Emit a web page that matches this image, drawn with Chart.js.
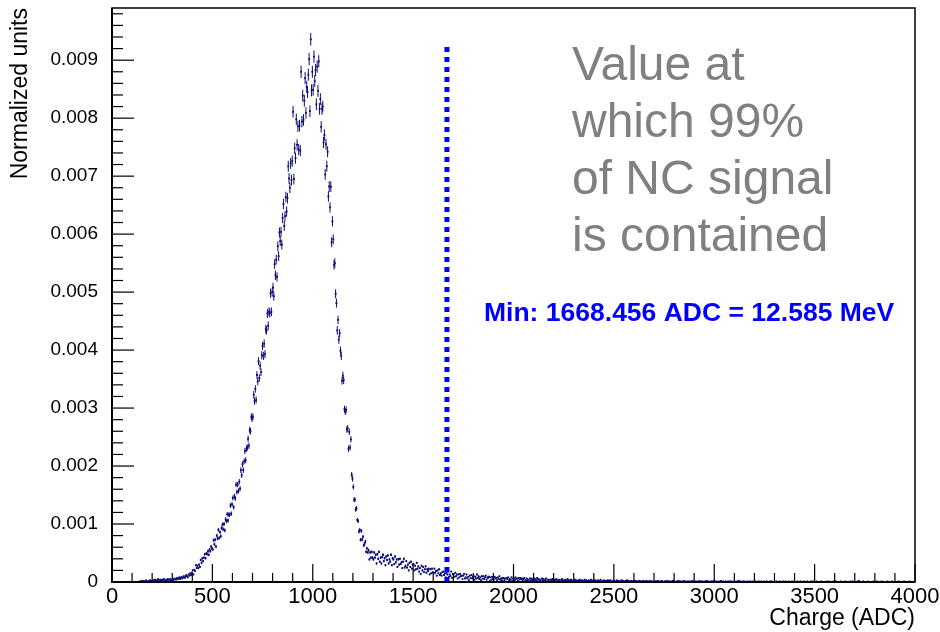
<!DOCTYPE html>
<html>
<head>
<meta charset="utf-8">
<title>Charge (ADC)</title>
<script src="https://cdn.jsdelivr.net/npm/chart.js@4.4.1/dist/chart.umd.min.js"></script>
<style>
    body { margin: 0; background: #ffffff; }
    canvas { display: block; }
</style>
</head>
<body>
<canvas id="chargeChart" width="940" height="632"></canvas>
<script>
// Histogram binning: 1000 bins of 4 ADC between 0 and 4000
const binWidth = 4;
const histLow = 0;

// Bin contents (normalized units), 25 bins per 100 ADC row
const riseBins = [
    0,0,0,0,0,0,0,0,0,0,0,0,0,0,0,0,0,0,0,0,0,0,0,0,0,
    0,0,0,0,0,0,0,0,0,0.00001,0,0.00002,0,0.00001,0.00002,0,0.00001,0.00003,0.00001,0,0.00002,0.00001,0.00003,0.00002,0.00001,
    0.00002,0.00003,0.00001,0.00004,0.00002,0.00003,0.00002,0.00005,0.00003,0.00002,0.00004,0.00003,0.00002,0.00004,0.00005,0.00003,0.00002,0.00004,0.00003,0.00005,0.00004,0.00002,0.00005,0.00003,0.00004,
    0.00004,0.00003,0.00006,0.00005,0.00004,0.00007,0.00005,0.00006,0.00008,0.00005,0.00007,0.00009,0.00006,0.00008,0.00010,0.00007,0.00009,0.00012,0.00010,0.00008,0.00013,0.00011,0.00015,0.00012,0.00016,
    0.00020,0.00013,0.00021,0.00019,0.00029,0.00024,0.00028,0.00024,0.00030,0.00026,0.00038,0.00033,0.00041,0.00036,0.00042,0.00048,0.00041,0.00049,0.00048,0.00053,0.00047,0.00056,0.00053,0.00061,0.00058,
    0.00056,0.00072,0.00065,0.00073,0.00061,0.00080,0.00075,0.00090,0.00076,0.00086,0.00079,0.00093,0.00099,0.00091,0.00100,0.00089,0.00108,0.00105,0.00117,0.00106,0.00116,0.00116,0.00132,0.00118,0.00134
];
const peakBins = [
    0.00145,0.00129,0.00148,0.00144,0.00168,0.00155,0.00168,0.00157,0.00173,0.00161,0.00193,0.00184,0.00203,0.00193,0.00208,0.00226,0.00210,0.00230,0.00232,0.00247,0.00235,0.00262,0.00260,0.00285,0.00282,
    0.00285,0.00323,0.00312,0.00333,0.00314,0.00357,0.00346,0.00381,0.00352,0.00373,0.00362,0.00391,0.00407,0.00390,0.00411,0.00393,0.00436,0.00434,0.00463,0.00442,0.00466,0.00464,0.00498,0.00466,0.00500,
    0.00508,0.00493,0.00548,0.00529,0.00556,0.00526,0.00579,0.00562,0.00603,0.00588,0.00604,0.00582,0.00628,0.00652,0.00614,0.00631,0.00664,0.00639,0.00662,0.00717,0.00696,0.00680,0.00722,0.00693,0.00726,
    0.00811,0.00695,0.00748,0.00731,0.00798,0.00754,0.00786,0.00746,0.00787,0.00744,0.00880,0.00794,0.00839,0.00797,0.00830,0.00869,0.00809,0.00854,0.00845,0.00875,0.00902,0.00812,0.00936,0.00848,0.00880,
    0.00849,0.00906,0.00864,0.00883,0.00824,0.00889,0.00847,0.00898,0.00816,0.00833,0.00785,0.00816,0.00820,0.00758,0.00771,0.00703,0.00755,0.00717,0.00742,0.00665,0.00682,0.00646,0.00682,0.00586,0.00622,
    0.00591,0.00547,0.00550,0.00497,0.00481,0.00434,0.00452,0.00418,0.00429,0.00399,0.00390,0.00347,0.00356,0.00348,0.00298,0.00294,0.00297,0.00263,0.00265,0.00230,0.00259,0.00232,0.00246,0.00185,0.00178,
    0.00164,0.00142,0.00142,0.00125,0.00127,0.00107,0.00105,0.00087,0.00090,0.00073,0.00088,0.00073,0.00078,0.00063,0.00066,0.00070,0.00052,0.00058,0.00051,0.00055,0.00039,0.00051,0.00042,0.00052,0.00042
];
const tailBins = [
    0.00039,0.00051,0.00042,0.00047,0.00032,0.00048,0.00040,0.00052,0.00035,0.00042,0.00032,0.00043,0.00047,0.00036,0.00041,0.00029,0.00044,0.00038,0.00046,0.00032,0.00039,0.00035,0.00047,0.00029,0.00041,
    0.00039,0.00031,0.00044,0.00034,0.00039,0.00026,0.00039,0.00030,0.00040,0.00031,0.00034,0.00024,0.00035,0.00040,0.00025,0.00028,0.00036,0.00025,0.00030,0.00020,0.00033,0.00026,0.00035,0.00023,0.00030,
    0.00031,0.00020,0.00028,0.00022,0.00033,0.00023,0.00027,0.00018,0.00024,0.00014,0.00028,0.00020,0.00026,0.00017,0.00022,0.00027,0.00016,0.00022,0.00019,0.00023,0.00013,0.00022,0.00015,0.00023,0.00017,
    0.00015,0.00023,0.00016,0.00019,0.00011,0.00020,0.00015,0.00022,0.00012,0.00015,0.00011,0.00017,0.00018,0.00012,0.00015,0.00008,0.00016,0.00013,0.00018,0.00009,0.00013,0.00010,0.00018,0.00007,0.00014,
    0.00013,0.00009,0.00016,0.00010,0.00013,0.00006,0.00013,0.00008,0.00014,0.00010,0.00011,0.00005,0.00011,0.00014,0.00006,0.00008,0.00013,0.00006,0.00009,0.00003,0.00011,0.00007,0.00012,0.00006,0.00009,
    0.00010,0.00004,0.00009,0.00006,0.00013,0.00007,0.00010,0.00005,0.00008,0.00003,0.00010,0.00006,0.00010,0.00005,0.00008,0.00011,0.00004,0.00008,0.00007,0.00009,0.00002,0.00008,0.00004,0.00009,0.00005,
    0.00004,0.00009,0.00006,0.00007,0.00003,0.00008,0.00005,0.00010,0.00004,0.00006,0.00003,0.00007,0.00007,0.00003,0.00006,0.00001,0.00007,0.00005,0.00008,0.00003,0.00005,0.00004,0.00008,0.00002,0.00006,
    0.00006,0.00003,0.00008,0.00005,0.00006,0.00002,0.00007,0.00004,0.00007,0.00005,0.00006,0.00003,0.00005,0.00007,0.00002,0.00003,0.00006,0.00003,0.00004,0.00001,0.00006,0.00003,0.00006,0.00003,0.00005,
    0.00006,0.00002,0.00005,0.00003,0.00007,0.00004,0.00005,0.00002,0.00004,0.00001,0.00006,0.00003,0.00005,0.00002,0.00003,0.00006,0.00001,0.00004,0.00003,0.00004,0,0.00004,0.00002,0.00005,0.00002,
    0.00003,0.00004,0.00002,0.00005,0.00001,0.00003,0.00002,0.00004,0,0.00003,0.00005,0.00002,0.00003,0.00001,0.00004,0.00003,0.00002,0.00005,0.00002,0.00003,0.00001,0.00004,0.00003,0,0.00002,
    0.00002,0.00004,0.00001,0.00003,0.00002,0,0.00003,0.00004,0.00002,0.00001,0.00003,0.00002,0,0.00004,0.00002,0.00003,0.00001,0.00002,0.00003,0,0.00002,0.00004,0.00001,0.00002,0.00003,
    0.00001,0.00003,0.00002,0,0.00002,0.00003,0.00001,0.00002,0.00004,0.00001,0,0.00002,0.00003,0.00001,0.00002,0.00002,0,0.00003,0.00001,0.00002,0.00003,0.00001,0,0.00002,0.00001,
    0.00002,0,0.00001,0.00003,0.00001,0.00002,0.00001,0,0.00002,0.00003,0.00001,0.00002,0.00001,0,0.00002,0.00001,0.00003,0.00001,0.00002,0,0.00001,0.00002,0,0.00001,0.00002
];
const farTailBins = [
    0.00001,0,0.00002,0.00001,0,0.00001,0.00002,0,0.00001,0.00001,0,0.00002,0.00001,0,0.00001,0.00002,0,0.00001,0.00001,0,0.00002,0.00001,0,0.00001,0,
    0,0.00001,0.00001,0,0.00002,0,0.00001,0,0.00001,0.00002,0.00001,0,0,0.00001,0.00001,0,0.00002,0,0.00001,0,0.00001,0,0.00001,0.00002,0,
    0.00001,0,0,0.00001,0,0.00002,0,0.00001,0,0.00001,0,0.00001,0.00002,0,0,0.00001,0,0.00001,0,0.00001,0,0,0.00002,0.00001,0,
    0,0.00001,0,0.00001,0,0,0.00002,0,0.00001,0,0.00001,0,0,0.00001,0,0.00002,0,0.00001,0,0,0.00001,0,0.00001,0,0.00002,
    0,0,0.00001,0,0,0.00001,0,0,0.00002,0,0,0.00001,0,0,0.00001,0,0,0.00001,0,0.00001,0,0.00001,0,0,0,
    0.00001,0,0,0.00001,0,0.00002,0,0.00001,0,0,0.00001,0,0.00001,0,0,0,0.00001,0,0,0.00001,0,0,0.00001,0,0,
    0,0.00001,0,0,0,0.00001,0,0,0.00001,0,0,0,0.00001,0,0,0.00001,0,0,0,0.00001,0,0.00001,0,0,0,
    0,0,0.00001,0,0,0,0.00001,0,0,0,0.00001,0,0,0.00001,0,0,0,0.00001,0,0,0,0.00001,0,0,0.00001,
    0,0,0,0.00001,0,0,0,0.00001,0,0,0,0.00001,0,0,0,0.00001,0,0,0,0,0.00001,0,0,0.00001,0,
    0,0,0.00001,0,0,0,0,0,0.00001,0,0,0,0,0,0.00001,0,0,0.00001,0,0,0,0,0,0.00001,0,
    0,0.00001,0,0,0,0,0,0.00001,0,0,0,0,0,0.00001,0,0,0,0,0,0.00001,0,0,0.00001,0,0,
    0,0,0,0.00001,0,0.00002,0,0,0,0,0.00001,0,0,0,0,0,0.00001,0,0,0,0,0,0,0.00001,0,
    0,0,0.00001,0,0,0,0,0,0.00001,0,0,0,0,0,0,0.00001,0,0,0,0,0,0.00001,0,0,0,
    0,0,0,0,0.00001,0,0,0,0,0,0,0.00001,0,0,0,0,0,0,0.00001,0,0,0,0,0,0
];

// Axis ticks
const xTicks = [0, 500, 1000, 1500, 2000, 2500, 3000, 3500, 4000];
const yTicks = [0, 0.001, 0.002, 0.003, 0.004, 0.005, 0.006, 0.007, 0.008, 0.009];

// 99% containment cut
const cutValue = 1668.456;
const cutLineTop = 0.0093;
const cutLabel = 'Min: 1668.456 ADC = 12.585 MeV';
const noteLines = ['Value at', 'which 99%', 'of NC signal', 'is contained'];

const totalEntries = 800000; // for the per-bin statistical error
const markerColor = '#0c0c78';
const fontFamily = "'Liberation Sans', Arial, Helvetica, sans-serif";

// Build the point list, skipping empty bins
const binContent = riseBins.concat(peakBins, tailBins, farTailBins);
const histPoints = [];
binContent.forEach(function(v, i) {
    if (v > 0) {
        histPoints.push({ x: histLow + (i + 0.5) * binWidth, y: v });
    }
});

// Error bars drawn right after the histogram markers
const histErrors = {
    id: 'histErrors',
    afterDatasetDraw(chart, args) {
        if (args.index !== 1) return;
        const ctx = chart.ctx;
        const yScale = chart.scales.y;
        ctx.save();
        ctx.strokeStyle = markerColor;
        ctx.lineWidth = 1;
        args.meta.data.forEach(function(pt, i) {
            const v = histPoints[i].y;
            const err = Math.sqrt(v / totalEntries);
            ctx.beginPath();
            ctx.moveTo(pt.x, yScale.getPixelForValue(v - err));
            ctx.lineTo(pt.x, yScale.getPixelForValue(v + err));
            ctx.stroke();
        });
        ctx.restore();
    }
};

// Frame with inward major/minor ticks, plus the text boxes
const frameAndNotes = {
    id: 'frameAndNotes',
    afterDraw(chart) {
        const ctx = chart.ctx;
        const area = chart.chartArea;
        const xs = chart.scales.x;
        const ys = chart.scales.y;
        ctx.save();

        ctx.strokeStyle = '#000';
        ctx.lineWidth = 1.2;
        for (let v = 0; v <= 4000; v += 100) {
            const px = xs.getPixelForValue(v);
            const len = (v % 500 === 0) ? 18 : 9;
            ctx.beginPath();
            ctx.moveTo(px, area.bottom);
            ctx.lineTo(px, area.bottom - len);
            ctx.stroke();
        }
        for (let k = 0; k <= 49; k++) {
            const py = ys.getPixelForValue(k * 0.0002);
            const len = (k % 5 === 0) ? 22 : 11;
            ctx.beginPath();
            ctx.moveTo(area.left, py);
            ctx.lineTo(area.left + len, py);
            ctx.stroke();
        }

        ctx.lineWidth = 1.5;
        ctx.strokeRect(area.left, area.top, area.right - area.left, area.bottom - area.top);
        ctx.lineWidth = 2;
        ctx.beginPath();
        ctx.moveTo(area.left, area.top);
        ctx.lineTo(area.left, area.bottom);
        ctx.lineTo(area.right, area.bottom);
        ctx.stroke();

        // Grey note, top right
        ctx.fillStyle = '#808080';
        ctx.font = '48px ' + fontFamily;
        ctx.textAlign = 'left';
        ctx.textBaseline = 'alphabetic';
        noteLines.forEach(function(line, i) {
            ctx.fillText(line, 572, 80 + i * 57);
        });

        // Cut value label
        ctx.fillStyle = '#0000ff';
        ctx.font = 'bold 26.5px ' + fontFamily;
        ctx.fillText(cutLabel, 484, 321);

        ctx.restore();
    }
};

Chart.defaults.font.family = fontFamily;
Chart.defaults.color = '#000';

const chart = new Chart(document.getElementById('chargeChart'), {
    type: 'scatter',
    data: {
        datasets: [{
            label: 'cut',
            data: [{ x: cutValue, y: 0 }, { x: cutValue, y: cutLineTop }],
            showLine: true,
            borderColor: '#0000ff',
            borderWidth: 5,
            borderDash: [5, 5],
            borderCapStyle: 'butt',
            pointRadius: 0,
            order: 0
        }, {
            label: 'charge',
            data: histPoints,
            pointStyle: 'rect',
            pointRadius: 1.3,
            pointBorderWidth: 0,
            backgroundColor: markerColor,
            borderColor: markerColor,
            order: 1
        }]
    },
    options: {
        responsive: false,
        animation: false,
        devicePixelRatio: 1,
        layout: {
            padding: { top: 8, right: 25, left: 0, bottom: 0 }
        },
        plugins: {
            legend: { display: false },
            tooltip: { enabled: false }
        },
        scales: {
            x: {
                type: 'linear',
                min: 0,
                max: 4000,
                afterBuildTicks: function(scale) {
                    scale.ticks = xTicks.map(v => ({ value: v }));
                },
                afterFit: function(scale) {
                    scale.height = 50;
                    scale.paddingLeft = 0;
                    scale.paddingRight = 0;
                },
                ticks: {
                    autoSkip: false,
                    maxRotation: 0,
                    padding: 2,
                    font: { size: 22 },
                    callback: v => String(v)
                },
                grid: { display: false, drawTicks: false },
                border: { display: false },
                title: {
                    display: true,
                    text: 'Charge (ADC)',
                    align: 'end',
                    font: { size: 23 },
                    padding: 0
                }
            },
            y: {
                type: 'linear',
                min: 0,
                max: 0.0099,
                afterBuildTicks: function(scale) {
                    scale.ticks = yTicks.map(v => ({ value: v }));
                },
                afterFit: function(scale) {
                    scale.width = 112;
                    scale.paddingTop = 0;
                    scale.paddingBottom = 0;
                },
                ticks: {
                    autoSkip: false,
                    padding: 14,
                    font: { size: 19 },
                    callback: v => (v === 0 ? '0' : v.toFixed(3))
                },
                grid: { display: false, drawTicks: false },
                border: { display: false },
                title: {
                    display: true,
                    text: 'Normalized units',
                    align: 'end',
                    font: { size: 23 },
                    padding: { top: 7, bottom: 0 }
                }
            }
        }
    },
    plugins: [histErrors, frameAndNotes]
});
</script>
</body>
</html>
